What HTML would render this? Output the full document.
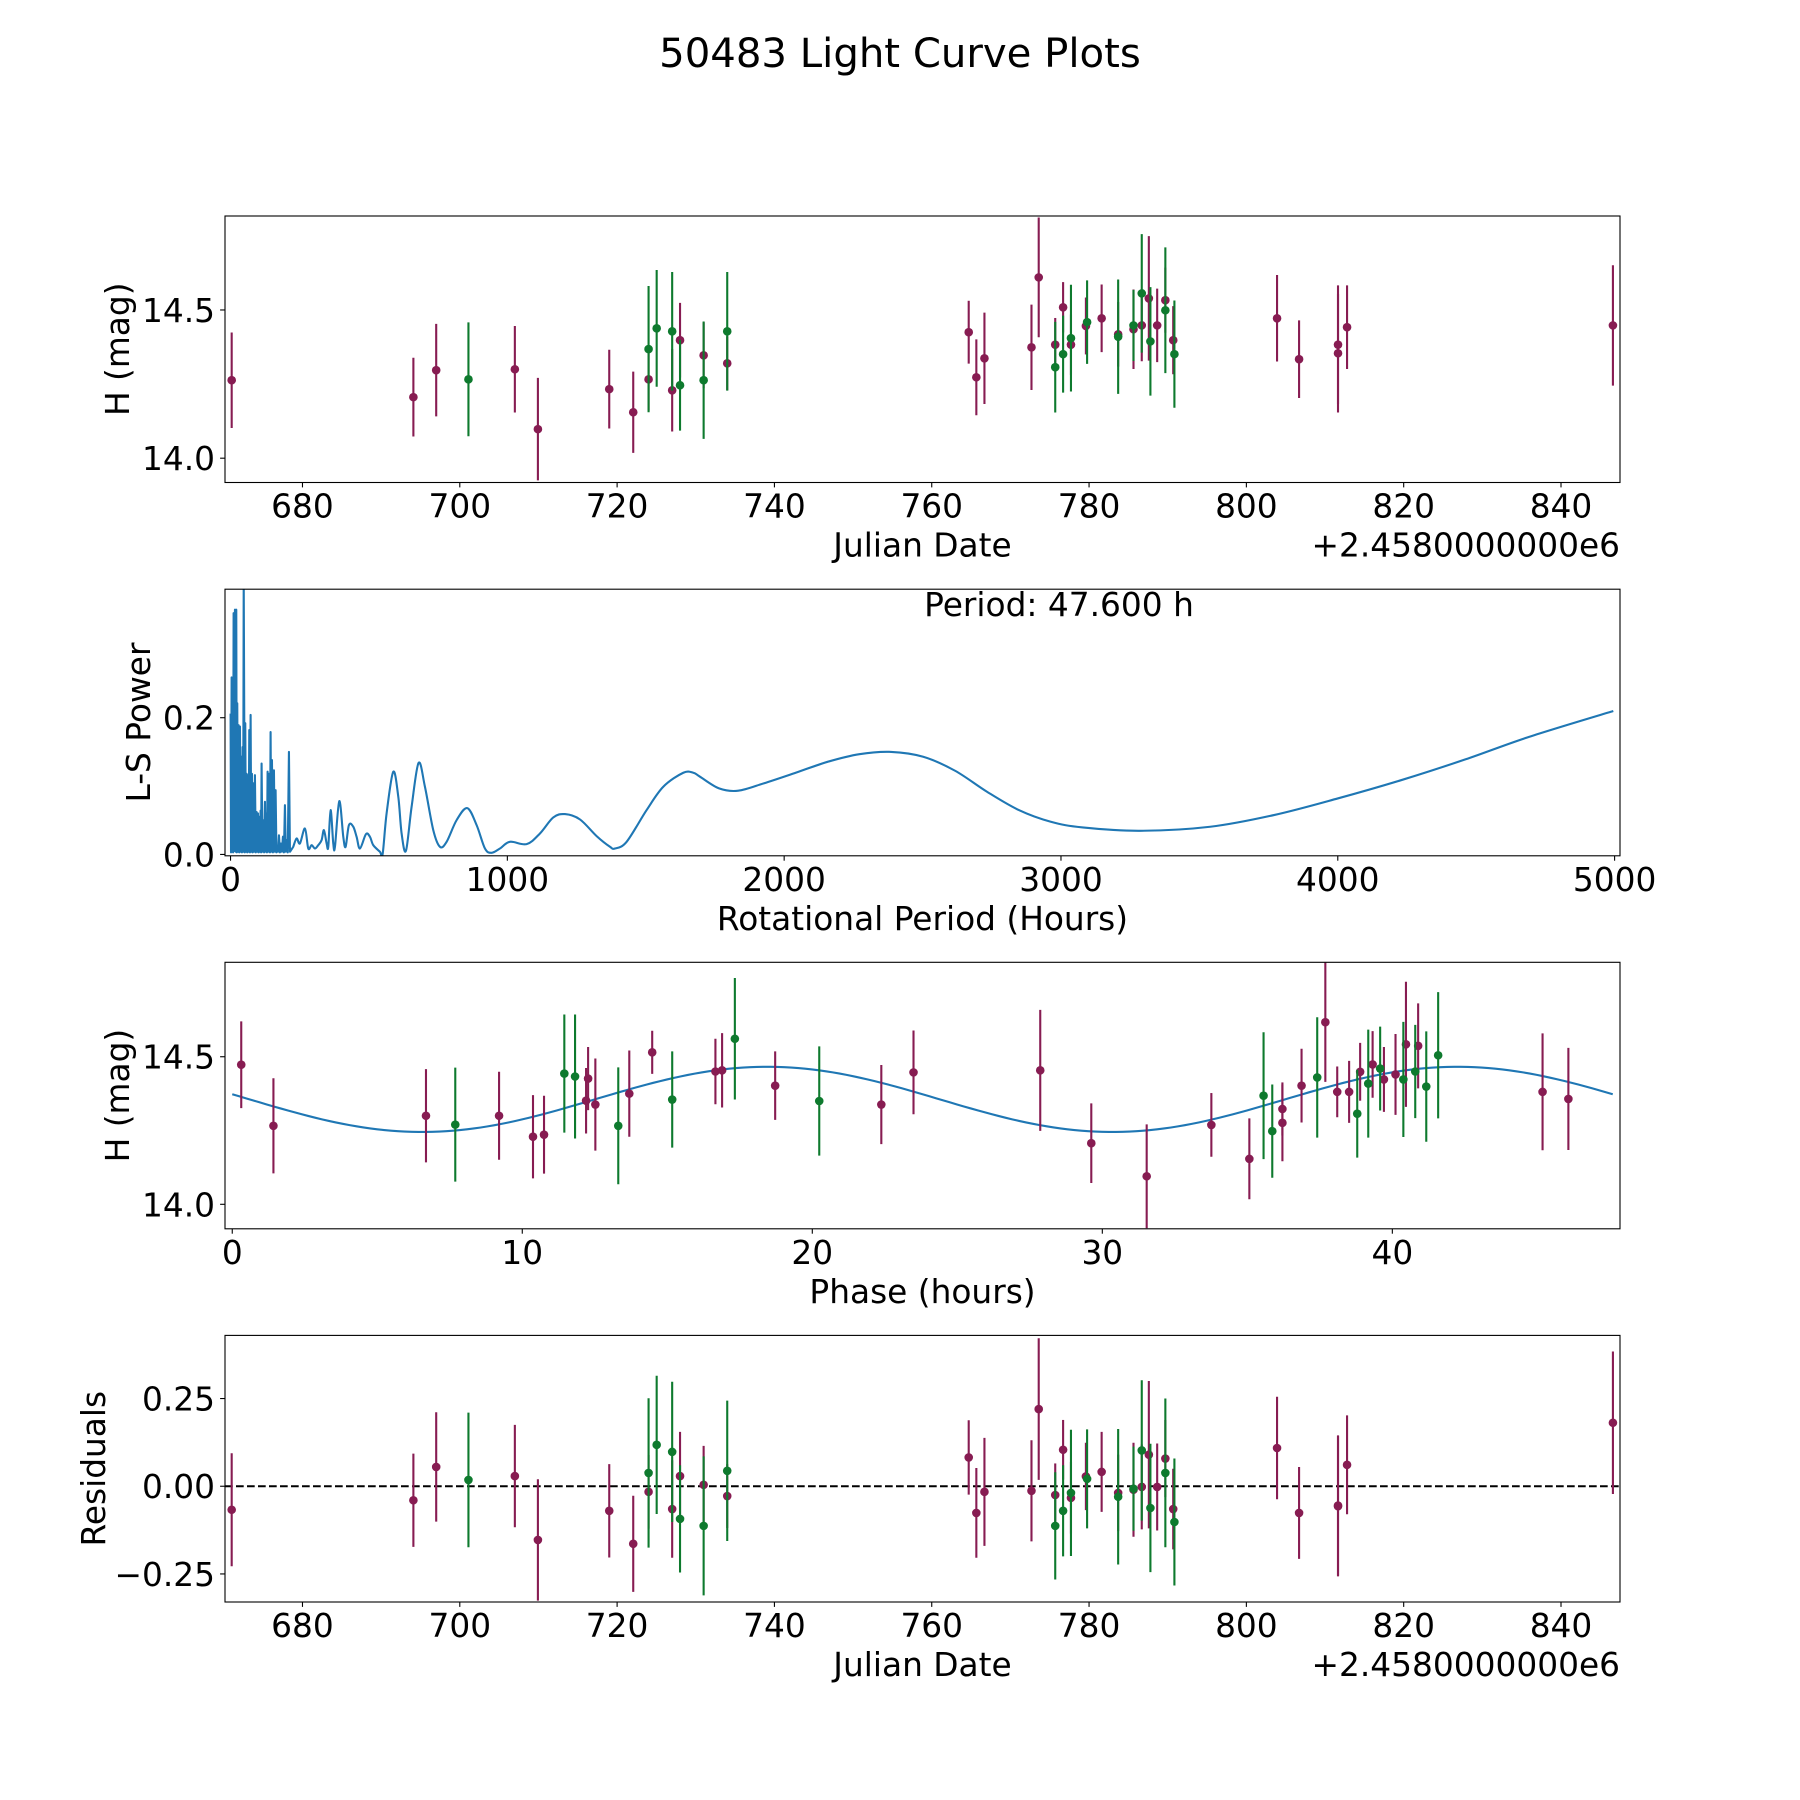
<!DOCTYPE html>
<html>
<head>
<meta charset="utf-8">
<title>50483 Light Curve Plots</title>
<style>
html,body{margin:0;padding:0;background:#fff;}
svg{display:block;}
text{font-family:"DejaVu Sans","Liberation Sans",sans-serif;fill:#000;}
</style>
</head>
<body>
<svg id="fig" width="1800" height="1800" viewBox="0 0 1800 1800" xmlns="http://www.w3.org/2000/svg">
<rect x="0" y="0" width="1800" height="1800" fill="#fff"/>
<text x="900" y="67" font-size="40.2" text-anchor="middle">50483 Light Curve Plots</text>
</svg>
<script>
// ---------- Light curve data (Julian date offset from 2458000) ----------
const jdDays = [671.0,694.1,697.0,701.1,707.0,709.93,719.0,722.05,724.0,724.0,725.03,727.0,727.0,728.0,728.0,731.0,731.0,734.0,734.0,
764.7,765.67,766.7,772.68,773.6,775.7,775.7,776.7,776.7,777.7,777.7,779.6,779.75,781.6,783.7,783.7,785.65,785.65,786.7,786.7,787.6,787.8,788.66,789.7,789.7,790.7,790.85,803.9,806.7,811.65,811.65,812.8,846.6];
const magValues = [14.263,14.206,14.297,14.266,14.300,14.098,14.233,14.155,14.266,14.368,14.438,14.428,14.229,14.398,14.246,14.347,14.263,14.428,14.320,
14.425,14.273,14.337,14.374,14.610,14.383,14.307,14.509,14.351,14.405,14.383,14.446,14.459,14.472,14.418,14.410,14.448,14.435,14.556,14.448,14.539,14.394,14.448,14.533,14.499,14.398,14.351,14.472,14.334,14.383,14.354,14.442,14.448];
const magErrors = [0.161,0.133,0.156,0.192,0.146,0.173,0.133,0.137,0.105,0.213,0.197,0.200,0.139,0.126,0.153,0.111,0.198,0.200,0.091,
0.106,0.128,0.154,0.144,0.202,0.090,0.153,0.085,0.130,0.180,0.102,0.096,0.141,0.114,0.109,0.193,0.120,0.134,0.200,0.121,0.210,0.183,0.124,0.110,0.212,0.115,0.181,0.146,0.131,0.200,0.200,0.141,0.203];
const residValues = [-0.067,-0.040,0.055,0.018,0.029,-0.153,-0.070,-0.164,-0.016,0.038,0.118,0.098,-0.065,0.029,-0.093,0.004,-0.113,0.044,-0.028,
0.082,-0.076,-0.016,-0.013,0.220,-0.025,-0.113,0.104,-0.070,-0.019,-0.033,0.028,0.021,0.041,-0.019,-0.030,-0.007,-0.010,0.102,-0.002,0.090,-0.062,-0.002,0.079,0.038,-0.065,-0.102,0.109,-0.076,-0.057,-0.055,0.061,0.181];
const bandCodes = ['p','p','p','g','p','p','p','p','p','g','g','g','p','p','g','p','g','g','p',
'p','p','p','p','p','p','g','p','g','g','p','p','g','p','p','g','g','p','g','p','p','g','p','p','g','p','g','p','p','p','p','p','p'];

// ---------- Phase-folded data ----------
const phaseHours = [0.31,1.42,6.68,7.69,9.2,10.37,10.75,11.45,11.82,12.2,12.27,12.52,13.31,13.69,14.48,15.17,16.66,16.89,17.33,18.72,20.24,22.38,
23.49,27.86,29.62,31.53,33.76,35.07,35.56,35.86,36.21,36.21,36.87,37.41,37.69,38.1,38.51,38.79,38.89,39.17,39.32,39.58,39.71,40.11,40.38,40.47,40.79,40.89,41.17,41.58,45.18,46.07];
const phaseMags = [14.473,14.266,14.300,14.270,14.300,14.229,14.236,14.443,14.433,14.351,14.426,14.338,14.266,14.375,14.515,14.355,14.450,14.454,14.561,14.402,14.350,14.338,
14.447,14.454,14.207,14.095,14.269,14.154,14.368,14.248,14.323,14.276,14.402,14.430,14.617,14.381,14.381,14.307,14.449,14.409,14.474,14.460,14.423,14.440,14.423,14.542,14.450,14.537,14.399,14.505,14.381,14.357];
const phaseErrors = [0.147,0.161,0.158,0.193,0.149,0.141,0.132,0.200,0.210,0.111,0.107,0.156,0.198,0.146,0.073,0.163,0.111,0.126,0.206,0.116,0.185,0.134,
0.142,0.205,0.135,0.176,0.108,0.137,0.215,0.158,0.090,0.130,0.125,0.204,0.202,0.086,0.105,0.149,0.098,0.183,0.113,0.142,0.110,0.137,0.195,0.212,0.158,0.144,0.187,0.214,0.198,0.173];
const phaseBands = ['p','p','p','g','p','p','p','g','g','p','p','p','g','p','p','g','p','p','g','p','g','p',
'p','p','p','p','p','p','g','g','p','p','p','g','p','p','p','g','p','g','p','g','p','p','g','p','g','p','g','g','p','p'];
// model fit parameters
const modelMean = 14.3555;
const modelAmp = 0.1105;
const modelPeriod = 23.8;
const modelPeak = 18.45;
const foldPeriod = 47.6;

// ---------- Lomb-Scargle periodogram ----------
const lsPeriods = [0.2,1.8,3.9,5.7,7.5,9.3,11.1,13.5,15.9,18.3,20.7,22.5,24.3,26.7,29.1,31.5,34.0,36.4,38.8,41.2,43.6,45.6,47.6,51.4,53.2,55.6,58.0,60.4,62.9,65.3,67.7,70.1,72.5,74.9,77.3,79.7,82.1,85.1,88.1,91.1,94.2,96.6,99.0,101.4,103.8,106.2,108.6,110.4,112.2,115.2,118.2,121.2,124.3,126.7,129.1,131.5,133.9,136.9,139.9,142.3,144.7,147.1,149.6,153.2,156.8,159.8,162.8,165.8,168.8,171.8,174.9,178.5,182.1,185.7,189.3,192.9,196.5,199.5,202.5,206.7,211.0,214.6,218.2,
226.6,238.7,250.7,268.8,280.8,292.9,304.9,316.9,329.0,337.4,347.1,353.1,361.5,371.1,377.2,392.8,407.3,415.7,427.7,443.4,455.4,467.5,489.2,503.6,515.6,539.7,549.4,563.8,587.9,606.0,618.0,633.7,654.1,679.4,702.3,732.4,756.5,780.6,816.7,855.2,889.0,919.1,943.2,973.3,1009.4,1069.6,1117.8,1165.9,1208.1,1262.3,1322.5,1370.7,1388.7,1430.9,1503.1,1563.3,1635.6,1671.7,1695.8,
1764.8,1834.2,1926.3,2041.6,2156.8,2271.7,2386.9,2502.2,2617.4,2732.7,2847.9,2963.2,3078.4,3285.5,3539.0,3769.5,3999.9,4230.1,4460.7,4691.0,4995.3];
const lsPowers = [0.206,0.003,0.259,0.004,0.258,0.003,0.353,0.005,0.358,0.004,0.358,0.003,0.221,0.004,0.189,0.003,0.187,0.004,0.143,0.003,0.157,0.004,0.402,0.003,0.192,0.004,0.118,0.003,0.116,0.004,0.182,0.003,0.204,0.004,0.118,0.003,0.104,0.004,0.116,0.003,0.062,0.004,0.060,0.003,0.055,0.004,0.064,0.003,0.133,0.004,0.050,0.003,0.077,0.004,0.060,0.003,0.121,0.004,0.118,0.003,0.179,0.004,0.138,0.003,0.123,0.004,0.094,0.003,0.011,0.004,0.028,0.003,0.016,0.004,0.026,0.003,0.072,0.004,0.021,0.003,0.150,0.004,0.006,
0.0112,0.0234,0.0161,0.038,0.0087,0.0136,0.0087,0.0136,0.021,0.0356,0.0161,0.0112,0.0649,0.0161,0.0112,0.078,0.0258,0.0112,0.0429,0.0405,0.0258,0.0087,0.0297,0.0258,0.0136,0.0039,0.0004,0.060,0.121,0.0844,0.0307,0.0053,0.0697,0.134,0.099,0.0356,0.0112,0.0185,0.0502,0.0678,0.0429,0.0087,0.0024,0.0087,0.0185,0.0151,0.0307,0.0541,0.059,0.0512,0.0268,0.0112,0.0087,0.0185,0.0649,0.099,0.1195,0.1195,0.1137,
0.0966,0.0932,0.104,0.1195,0.1355,0.1467,0.150,0.1429,0.1224,0.0917,0.0649,0.0478,0.0395,0.0346,0.0405,0.0576,0.0819,0.1088,0.139,0.172,0.2098];
const periodLabel = 'Period: 47.600 h';
const noisyLimit = 220;

// ---------- Tick labels ----------
const dateTicks = [680,700,720,740,760,780,800,820,840];
const magTicks = [14.0,14.5];
const magTickLabels = ['14.0','14.5'];
const lsXTicks = [0,1000,2000,3000,4000,5000];
const lsYTicks = [0.0,0.2];
const lsYTickLabels = ['0.0','0.2'];
const phaseTicks = [0,10,20,30,40];
const residTicks = [-0.25,0.0,0.25];
const residTickLabels = ['\u22120.25','0.00','0.25'];

// ---------- Layout ----------
const NS = 'http://www.w3.org/2000/svg';
const svg = document.getElementById('fig');
const PURPLE = '#871c52';
const GREEN = '#0e7a2e';
const BLUE = '#1f77b4';
const FS = 32.8;

function panel(name, y0, y1, xmin, xmax, ymin, ymax) {
  return {name:name, x0:225, x1:1620, y0:y0, y1:y1, xmin:xmin, xmax:xmax, ymin:ymin, ymax:ymax,
    sx: function(v){ return this.x0 + (v - this.xmin) / (this.xmax - this.xmin) * (this.x1 - this.x0); },
    sy: function(v){ return this.y1 - (v - this.ymin) / (this.ymax - this.ymin) * (this.y1 - this.y0); }};
}
const pTop = panel('light-curve', 216, 482.5, 670.15, 847.5, 13.918, 14.817);
const pLS = panel('periodogram', 589.2, 855.8, -20, 5019.5, -0.002, 0.388);
const pPhase = panel('phase', 962.3, 1228.8, -0.25, 47.85, 13.917, 14.82);
const pRes = panel('residuals', 1335.4, 1602, 670.15, 847.5, -0.33, 0.43);

function el(tag, attrs, parent) {
  const e = document.createElementNS(NS, tag);
  for (const k in attrs) e.setAttribute(k, attrs[k]);
  (parent || svg).appendChild(e);
  return e;
}

const defs = el('defs', {});



function makeGroup(p) {
  const cp = el('clipPath', {id: 'clip-' + p.name}, defs);
  
  
  const r = el('rect', {x: p.x0, y: p.y0, width: p.x1 - p.x0, height: p.y1 - p.y0}, cp);
  
  
  const g = el('g', {'clip-path': 'url(#clip-' + p.name + ')'});
  
  
  return g;
}

function drawFrame(p) {
  const r = el('rect', {x: p.x0, y: p.y0, width: p.x1 - p.x0, height: p.y1 - p.y0, fill: 'none', stroke: '#000', 'stroke-width': 1.1});
  
  
}

function xTicks(p, vals, labels) {
  vals.forEach(function(v, i) {
    const x = p.sx(v);
    const t = el('line', {x1: x, x2: x, y1: p.y1, y2: p.y1 + 4.9, stroke: '#000', 'stroke-width': 1.1});
    
    
    const lb = el('text', {x: x, y: p.y1 + 35, 'font-size': FS, 'text-anchor': 'middle'});
    lb.textContent = labels ? labels[i] : String(v);
    
    
  });
}

function yTicks(p, vals, labels) {
  vals.forEach(function(v, i) {
    const y = p.sy(v);
    const t = el('line', {x1: p.x0 - 4.9, x2: p.x0, y1: y, y2: y, stroke: '#000', 'stroke-width': 1.1});
    
    
    const lb = el('text', {x: p.x0 - 10, y: y + 12, 'font-size': FS, 'text-anchor': 'end'});
    lb.textContent = labels[i];
    
    
  });
}

function xLabel(p, txt) {
  const t = el('text', {x: (p.x0 + p.x1) / 2, y: p.y1 + 74, 'font-size': FS, 'text-anchor': 'middle'});
  t.textContent = txt;
  
  
}

function yLabel(p, txt, bx) {
  const cy = (p.y0 + p.y1) / 2;
  const t = el('text', {x: bx, y: cy, 'font-size': FS, 'text-anchor': 'middle', transform: 'rotate(-90 ' + bx + ' ' + cy + ')'});
  t.textContent = txt;
  
  
}

function offsetText(p) {
  const t = el('text', {x: p.x1, y: p.y1 + 74, 'font-size': FS, 'text-anchor': 'end'});
  t.textContent = '+2.4580000000e6';
  
  
}

function errorPoints(p, g, xs, ys, errs, bands, kind) {
  ['p', 'g'].forEach(function(b) {
    xs.forEach(function(xv, i) {
      if (bands[i] !== b) return;
      const col = b === 'p' ? PURPLE : GREEN;
      const x = p.sx(xv);
      const bar = el('line', {x1: x, x2: x, y1: p.sy(ys[i] + errs[i]), y2: p.sy(ys[i] - errs[i]), stroke: col, 'stroke-width': 2.1}, g);
      
      
      const c = el('circle', {cx: x, cy: p.sy(ys[i]), r: 4.3, fill: col}, g);
      
      
    });
  });
}

// ---- Panel 1: light curve ----
const g1 = makeGroup(pTop);
errorPoints(pTop, g1, jdDays, magValues, magErrors, bandCodes, 'magnitude');
drawFrame(pTop);
xTicks(pTop, dateTicks);
yTicks(pTop, magTicks, magTickLabels);
xLabel(pTop, 'Julian Date');
offsetText(pTop);
yLabel(pTop, 'H (mag)', 129);

// ---- Panel 2: periodogram ----
const g2 = makeGroup(pLS);
const lsPts = lsPeriods.map(function(h, i) { return [pLS.sx(h), pLS.sy(lsPowers[i])]; });
let dLS = 'M' + lsPts[0][0].toFixed(2) + ',' + lsPts[0][1].toFixed(2);
for (let i = 1; i < lsPts.length; i++) {
  const p1 = lsPts[i - 1], p2 = lsPts[i];
  if (lsPeriods[i - 1] < noisyLimit) {
    dLS += 'L' + p2[0].toFixed(2) + ',' + p2[1].toFixed(2);
  } else {
    const p0 = lsPts[i - 2] && lsPeriods[i - 2] >= noisyLimit ? lsPts[i - 2] : p1;
    const p3 = lsPts[i + 1] || p2;
    const c1x = p1[0] + (p2[0] - p0[0]) / 6, c1y = p1[1] + (p2[1] - p0[1]) / 6;
    const c2x = p2[0] - (p3[0] - p1[0]) / 6, c2y = p2[1] - (p3[1] - p1[1]) / 6;
    dLS += 'C' + c1x.toFixed(2) + ',' + c1y.toFixed(2) + ' ' + c2x.toFixed(2) + ',' + c2y.toFixed(2) + ' ' + p2[0].toFixed(2) + ',' + p2[1].toFixed(2);
  }
}
const lsLine = el('path', {d: dLS, fill: 'none', stroke: BLUE, 'stroke-width': 2.1, 'stroke-linejoin': 'round'}, g2);


drawFrame(pLS);
xTicks(pLS, lsXTicks);
yTicks(pLS, lsYTicks, lsYTickLabels);
xLabel(pLS, 'Rotational Period (Hours)');
yLabel(pLS, 'L-S Power', 150);
const pt = el('text', {x: 1059, y: 616, 'font-size': FS, 'text-anchor': 'middle'});
pt.textContent = periodLabel;



// ---- Panel 3: phase folded ----
const g3 = makeGroup(pPhase);
let dM = '';
for (let k = 0; k <= 200; k++) {
  const ph = foldPeriod * k / 200;
  const mv = modelMean + modelAmp * Math.cos(2 * Math.PI * (ph - modelPeak) / modelPeriod);
  dM += (k === 0 ? 'M' : 'L') + pPhase.sx(ph).toFixed(2) + ',' + pPhase.sy(mv).toFixed(2);
}
const mLine = el('path', {d: dM, fill: 'none', stroke: BLUE, 'stroke-width': 2.1}, g3);


errorPoints(pPhase, g3, phaseHours, phaseMags, phaseErrors, phaseBands, 'phase');
drawFrame(pPhase);
xTicks(pPhase, phaseTicks);
yTicks(pPhase, magTicks, magTickLabels);
xLabel(pPhase, 'Phase (hours)');
yLabel(pPhase, 'H (mag)', 129);

// ---- Panel 4: residuals ----
const g4 = makeGroup(pRes);
const zl = el('line', {x1: pRes.x0, x2: pRes.x1, y1: pRes.sy(0), y2: pRes.sy(0), stroke: '#000', 'stroke-width': 2.1, 'stroke-dasharray': '7.7,3.3'}, g4);


errorPoints(pRes, g4, jdDays, residValues, magErrors, bandCodes, 'residual');
drawFrame(pRes);
xTicks(pRes, dateTicks);
yTicks(pRes, residTicks, residTickLabels);
xLabel(pRes, 'Julian Date');
offsetText(pRes);
yLabel(pRes, 'Residuals', 105);
</script>
</body>
</html>
